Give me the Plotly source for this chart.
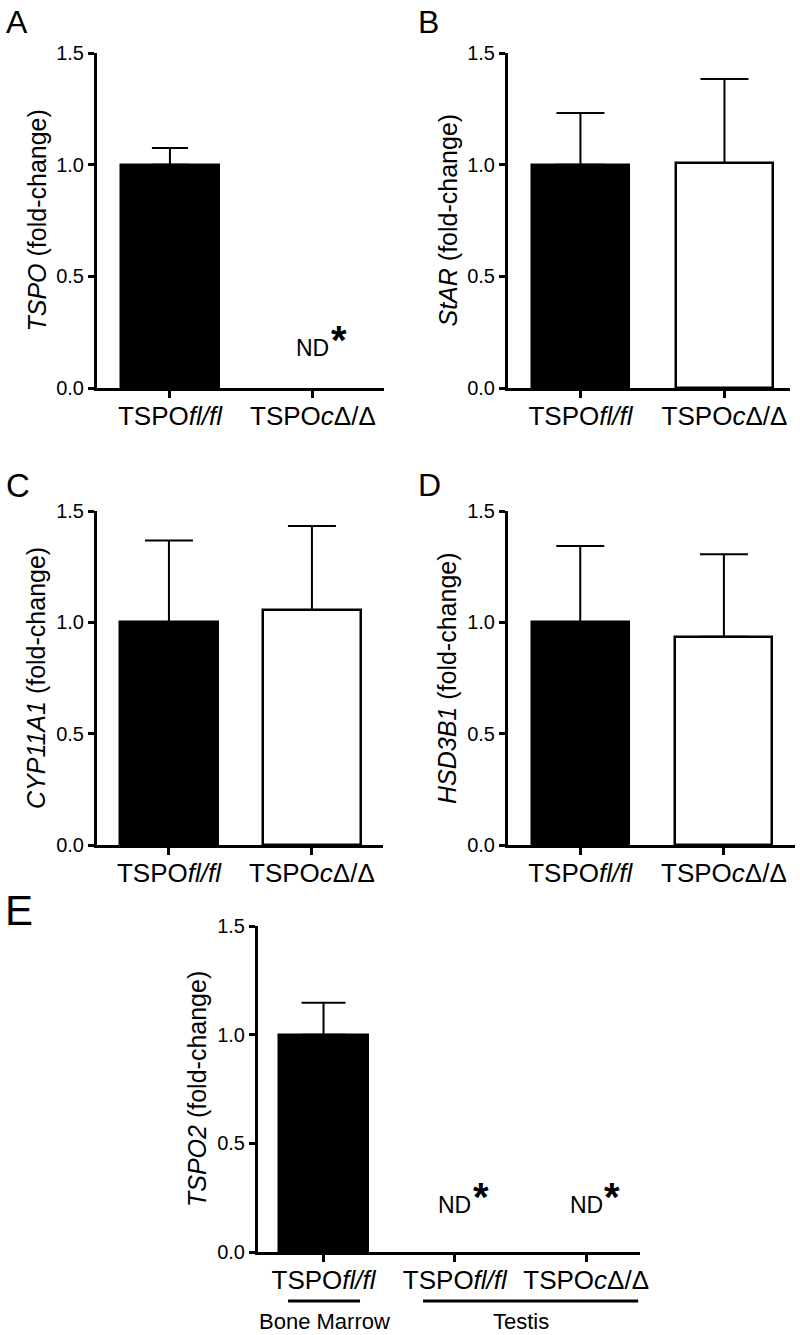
import plotly.graph_objects as go

FONT = "Arial, Liberation Sans, Helvetica, sans-serif"
W, H = 800, 1335

# --- data ---
pair_labels = ["TSPO<i>fl/fl</i>", "TSPO<i>c</i>Δ/Δ"]
pair_colors = ["black", "white"]

tspo_mean = [1.0, None]
tspo_err = [0.075, None]

star_mean = [1.0, 1.007]
star_err = [0.231, 0.377]

cyp_mean = [1.0, 1.055]
cyp_err = [0.367, 0.378]

hsd_mean = [1.0, 0.935]
hsd_err = [0.343, 0.371]

e_labels = ["TSPO<i>fl/fl</i>", "TSPO<i>fl/fl</i>", "TSPO<i>c</i>Δ/Δ"]
e_groups = ["Bone Marrow", "Testis"]
tspo2_mean = [1.0, None, None]
tspo2_err = [0.147, None, None]
e_colors = ["black", "white", "white"]

fig = go.Figure()


def px_x(p):
    return p / W


def px_y(p):
    return (H - p) / H


def add_panel(n, labels, means, errs, colors, ytitle, x0, x1, y_top, y_bot,
              xrange, bar_w, cap):
    xs = list(range(len(labels)))
    fig.add_trace(go.Bar(
        x=xs, y=means, width=bar_w,
        marker=dict(color=colors, line=dict(color="black", width=2.5)),
        error_y=dict(type="data", array=errs, arrayminus=[0] * len(errs),
                     symmetric=False, color="black", thickness=2, width=cap),
        xaxis=f"x{n}", yaxis=f"y{n}", showlegend=False,
    ))
    sfx = "" if n == 1 else str(n)
    fig.layout[f"xaxis{sfx}"] = dict(
        domain=[px_x(x0), px_x(x1)], anchor=f"y{n}", range=xrange,
        tickvals=xs, ticktext=labels, ticks="outside", ticklen=7,
        tickwidth=2.5, tickcolor="black", showline=True, linewidth=3,
        linecolor="black", showgrid=False, zeroline=False, automargin=False,
        ticklabelstandoff=-4,
        tickfont=dict(family=FONT, size=26, color="black"),
    )
    fig.layout[f"yaxis{sfx}"] = dict(
        domain=[px_y(y_bot), px_y(y_top)], anchor=f"x{n}", range=[0, 1.5],
        tickvals=[0, 0.5, 1.0, 1.5], tickformat=".1f", ticks="outside",
        ticklen=6, tickwidth=2.5, tickcolor="black", showline=True,
        linewidth=3, linecolor="black", showgrid=False, zeroline=False,
        automargin=False,
        tickfont=dict(family=FONT, size=20, color="black"),
    )
    # axis title placed as rotated text left of the axis
    fig.add_annotation(text=ytitle, x=px_x(x0 - 61), y=px_y((y_top + y_bot) / 2),
                       xref="paper", yref="paper", textangle=-90,
                       showarrow=False, xanchor="center", yanchor="middle",
                       font=dict(family=FONT, size=25, color="black"))


add_panel(1, pair_labels, tspo_mean, tspo_err, pair_colors,
          "<i>TSPO</i> (fold-change)", 97, 384, 53, 388, [-0.51, 1.497], 0.685, 18)
add_panel(2, pair_labels, star_mean, star_err, pair_colors,
          "<i>StAR</i> (fold-change)", 508, 790, 53, 388, [-0.503, 1.455], 0.674, 24)
add_panel(3, pair_labels, cyp_mean, cyp_err, pair_colors,
          "<i>CYP11A1</i> (fold-change)", 97, 383, 511, 845, [-0.503, 1.497], 0.685, 24)
add_panel(4, pair_labels, hsd_mean, hsd_err, pair_colors,
          "<i>HSD3B1</i> (fold-change)", 508, 795, 511, 845, [-0.503, 1.495], 0.675, 24)
add_panel(5, e_labels, tspo2_mean, tspo2_err, e_colors,
          "<i>TSPO2</i> (fold-change)", 258, 640, 926, 1252, [-0.499, 2.41], 0.678, 22)

# panel letters
for letter, lx, ly, fs in [("A", 4, 22, 32), ("B", 416, 22, 32), ("C", 4, 485, 33),
                           ("D", 416, 485, 32), ("E", 3, 910, 42)]:
    fig.add_annotation(text=letter, x=px_x(lx), y=px_y(ly), xref="paper",
                       yref="paper", xanchor="left", yanchor="middle",
                       showarrow=False,
                       font=dict(family=FONT, size=fs, color="black"))

# not-detected marks
for n, xi, yv in [(1, 1, 0.18), (5, 1, 0.215), (5, 2, 0.215)]:
    fig.add_annotation(text="ND", x=xi, y=yv, xref=f"x{n}", yref=f"y{n}",
                       showarrow=False, xanchor="center", yanchor="middle",
                       font=dict(family=FONT, size=23, color="black"))
    fig.add_annotation(text="<b>*</b>", x=xi, y=yv, xref=f"x{n}", yref=f"y{n}",
                       showarrow=False, xanchor="center", yanchor="middle",
                       xshift=26, yshift=8,
                       font=dict(family=FONT, size=40, color="black"))

# group brackets under panel E
for (gx0, gx1), name in zip([(-0.27, 0.278), (0.758, 2.396)], e_groups):
    fig.add_shape(type="line", xref="x5", yref="paper", x0=gx0, x1=gx1,
                  y0=px_y(1301), y1=px_y(1301),
                  line=dict(color="black", width=3))
    fig.add_annotation(text=name, x=(gx0 + gx1) / 2 - (0.07 if gx1 > 1 else 0),
                       y=px_y(1321), xref="x5", yref="paper",
                       showarrow=False, xanchor="center", yanchor="middle",
                       font=dict(family=FONT, size=22, color="black"))

fig.update_layout(
    template="none",
    width=W, height=H, margin=dict(l=0, r=0, t=0, b=0),
    plot_bgcolor="white", paper_bgcolor="white", showlegend=False,
    bargap=0,
)

fig.write_html("out.html", config={"displayModeBar": False},
               post_script="document.body.style.margin='0';")
